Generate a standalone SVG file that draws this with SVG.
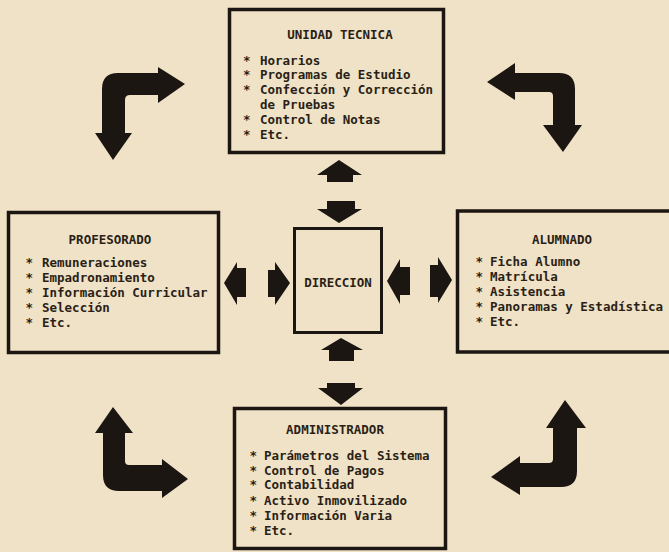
<svg xmlns="http://www.w3.org/2000/svg" width="669" height="552" viewBox="0 0 669 552">
<style>
.box{fill:none;stroke:#1c1612;stroke-width:3.5}
.ink{fill:#1c1612}
text{font-family:"DejaVu Sans Mono","Liberation Mono",monospace;font-size:12.5px;fill:#2a1f16;font-weight:bold}
.t{text-anchor:middle}
</style>
<rect width="669" height="552" fill="#f0e2c6"/>
<g id="unidad-tecnica">
<rect class="box" x="229.5" y="9.5" width="214" height="143"/>
<text class="t" x="340" y="39">UNIDAD TECNICA</text>
<text x="243" y="64.5">*<tspan x="260">Horarios</tspan></text>
<text x="243" y="79">*<tspan x="260">Programas de Estudio</tspan></text>
<text x="243" y="94">*<tspan x="260">Confección y Corrección</tspan></text>
<text x="260" y="108.5">de Pruebas</text>
<text x="243" y="124">*<tspan x="260">Control de Notas</tspan></text>
<text x="243" y="139">*<tspan x="260">Etc.</tspan></text>
</g>
<g id="profesorado">
<rect class="box" x="8.5" y="212.5" width="210" height="140"/>
<text class="t" x="110" y="244">PROFESORADO</text>
<text x="25.5" y="267">*<tspan x="42">Remuneraciones</tspan></text>
<text x="25.5" y="282">*<tspan x="42">Empadronamiento</tspan></text>
<text x="25.5" y="297">*<tspan x="42">Información Curricular</tspan></text>
<text x="25.5" y="312">*<tspan x="42">Selección</tspan></text>
<text x="25.5" y="327">*<tspan x="42">Etc.</tspan></text>
</g>
<g id="alumnado">
<rect class="box" x="457.5" y="211" width="220" height="141"/>
<text class="t" x="562" y="244">ALUMNADO</text>
<text x="475.5" y="265.5">*<tspan x="490">Ficha Alumno</tspan></text>
<text x="475.5" y="280.5">*<tspan x="490">Matrícula</tspan></text>
<text x="475.5" y="296">*<tspan x="490">Asistencia</tspan></text>
<text x="475.5" y="311">*<tspan x="490">Panoramas y Estadística</tspan></text>
<text x="475.5" y="326">*<tspan x="490">Etc.</tspan></text>
</g>
<g id="administrador">
<rect class="box" x="234.5" y="408.5" width="211" height="140"/>
<text class="t" x="335" y="434">ADMINISTRADOR</text>
<text x="249.5" y="459.5">*<tspan x="264">Parámetros del Sistema</tspan></text>
<text x="249.5" y="474.5">*<tspan x="264">Control de Pagos</tspan></text>
<text x="249.5" y="489">*<tspan x="264">Contabilidad</tspan></text>
<text x="249.5" y="504.5">*<tspan x="264">Activo Inmovilizado</tspan></text>
<text x="249.5" y="519.5">*<tspan x="264">Información Varia</tspan></text>
<text x="249.5" y="534.5">*<tspan x="264">Etc.</tspan></text>
</g>
<g id="direccion">
<rect class="box" x="294.5" y="228.5" width="87" height="104" style="stroke-width:3"/>
<text class="t" x="338" y="287">DIRECCION</text>
</g>
<g id="connectors" class="ink">
<polygon points="339,160 362,175 353,175 353,182 327,182 327,175 317,175"/>
<polygon points="327,201 355,201 355,209 362,209 339,223 317,209 327,209"/>
<polygon points="224,283 237,262 237,268 246,268 246,297 237,297 237,305"/>
<polygon points="268,270 275,270 275,262 290,283 275,305 275,297 268,297"/>
<polygon points="387,281 400,259 400,267 410,267 410,295 400,295 400,304"/>
<polygon points="430,265 438,265 438,257 452,280 438,303 438,297 430,297"/>
<polygon points="341,338 363,350 354,350 354,361 329,361 329,350 321,350"/>
<polygon points="327,383 355,383 355,388 363,388 341,405 318,388 327,388"/>
<path d="M102,133 L95,133 L113,160 L132,133 L125,133 L125,100 Q125,95 130,95 L158,95 L158,103 L185,84 L158,67 L158,73 L118,73 Q102,73 102,89 Z"/>
<path d="M487,82 L515,63 L515,73 L559,73 Q575,73 575,89 L575,125 L582,125 L563,152 L543,125 L553,125 L553,96 Q553,92 549,92 L515,92 L515,100 Z"/>
<path d="M113,407 L133,433 L125,433 L125,461 Q125,465 129,465 L162,465 L162,459 L188,479 L162,498 L162,491 L119,491 Q103,491 103,475 L103,433 L95,433 Z"/>
<path d="M565,400 L586,428 L577,428 L577,471 Q577,487 561,487 L520,487 L520,495 L491,477 L520,456 L520,463 L549,463 Q553,463 553,459 L553,428 L546,428 Z"/>
</g>
</svg>
